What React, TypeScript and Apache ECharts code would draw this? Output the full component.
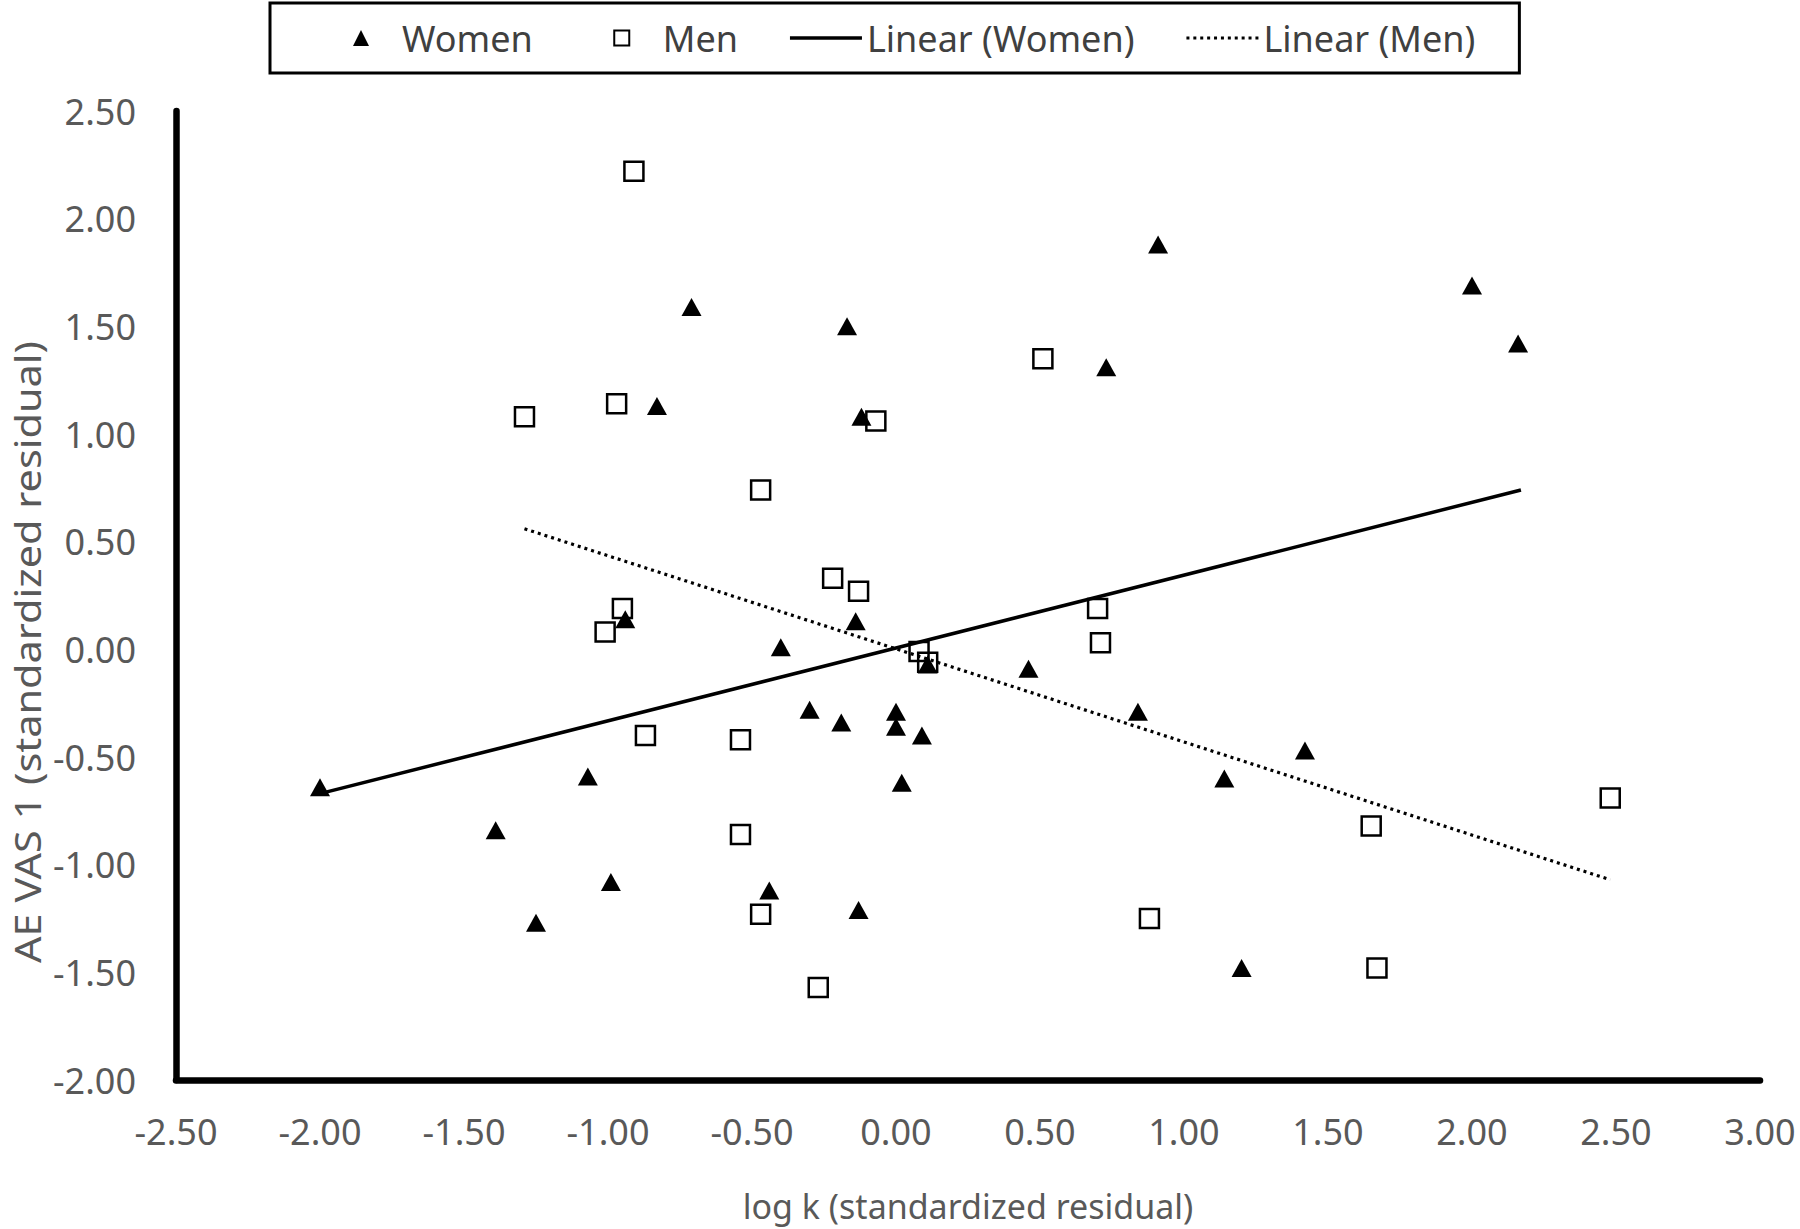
import React, { useEffect, useRef } from "react";
import * as echarts from "echarts";

// Women (triangles): [log k residual, AE VAS 1 residual]
const womenPoints: [number, number][] = [
  [-2.0, -0.64], [-1.39, -0.84], [-1.25, -1.27], [-1.07, -0.59], [-0.99, -1.08],
  [-0.94, 0.14], [-0.83, 1.13], [-0.71, 1.59], [-0.44, -1.12], [-0.4, 0.01],
  [-0.3, -0.28], [-0.19, -0.34], [-0.17, 1.5], [-0.14, 0.13], [-0.13, -1.21],
  [-0.12, 1.08], [0.0, -0.29], [0.0, -0.36], [0.02, -0.62], [0.09, -0.4],
  [0.11, -0.07], [0.46, -0.09], [0.73, 1.31], [0.84, -0.29], [0.91, 1.88],
  [1.14, -0.6], [1.2, -1.48], [1.42, -0.47], [2.0, 1.69], [2.16, 1.42],
];

// Men (squares)
const menPoints: [number, number][] = [
  [-0.91, 2.22], [-1.29, 1.08], [-0.97, 1.14], [-0.95, 0.19], [-1.01, 0.08],
  [-0.87, -0.4], [-0.47, 0.74], [-0.54, -0.42], [-0.54, -0.86], [-0.47, -1.23],
  [-0.27, -1.57], [-0.22, 0.33], [-0.13, 0.27], [-0.07, 1.06], [0.08, -0.01],
  [0.11, -0.06], [0.51, 1.35], [0.7, 0.19], [0.71, 0.03], [0.88, -1.25],
  [1.65, -0.82], [1.67, -1.48], [2.48, -0.69],
];

// Linear trend lines (endpoints)
const womenTrend: [number, number][] = [[-2.0, -0.67], [2.17, 0.74]];
const menTrend: [number, number][] = [[-1.29, 0.56], [2.48, -1.07]];

const legendNames = ["Women", "Men", "Linear (Women)", "Linear (Men)"];
const xTitle = "log k (standardized residual)";
const yTitle = "AE VAS 1 (standardized residual)";

const FONT = "'Noto Sans', 'Open Sans', sans-serif";

// legend icon shapes: each spans the full 72x16 icon box (move-to corners),
// with the visible mark centred in it
const ICON_TRIANGLE = "path://M0,0M72,16M36,0L44,16L28,16Z";
const ICON_SQUARE = "path://M0,0M72,16M28.5,0.5L43.5,0.5L43.5,15.5L28.5,15.5Z";
const ICON_SOLID = "path://M0,0M72,16M0,6.25L72,6.25L72,9.75L0,9.75Z";
const ICON_DOTTED = (() => {
  let d = "path://M0,0M72,16";
  for (let i = 0; i < 11; i++) {
    const x = i * 6.9;
    d += `M${x},6.5L${x + 3},6.5L${x + 3},9.5L${x},9.5Z`;
  }
  return d;
})();

export default function App() {
  const ref = useRef<HTMLDivElement>(null);
  useEffect(() => {
    if (!ref.current) return;
    const chart = echarts.init(ref.current, null, { renderer: "svg" });
    chart.setOption({
      animation: false,
      backgroundColor: "#ffffff",
      grid: { left: 176, right: 40, top: 111, bottom: 149, containLabel: false },
      legend: {
        data: [
          { name: legendNames[0], icon: ICON_TRIANGLE },
          { name: legendNames[1], icon: ICON_SQUARE },
          { name: legendNames[2], icon: ICON_SOLID },
          { name: legendNames[3], icon: ICON_DOTTED },
        ],
        left: 270,
        top: 3,
        orient: "horizontal",
        itemWidth: 72,
        itemHeight: 16,
        itemGap: 52,
        symbolKeepAspect: true,
        padding: [13, 44, 13, 55],
        borderColor: "#000",
        borderWidth: 3,
        textStyle: { fontSize: 36, fontFamily: FONT, color: "#404040", lineHeight: 44 },
      },
      xAxis: {
        type: "value",
        min: -2.5,
        max: 3,
        interval: 0.5,
        axisLine: { show: true, onZero: false, lineStyle: { color: "#000", width: 6.5 } },
        axisTick: { show: false },
        splitLine: { show: false },
        axisLabel: {
          formatter: (v: number) => v.toFixed(2),
          fontSize: 36,
          fontFamily: FONT,
          color: "#595959",
          margin: 33,
          showMinLabel: true,
          showMaxLabel: true,
        },
        name: xTitle,
        nameLocation: "middle",
        nameGap: 109,
        nameTextStyle: { fontSize: 34, fontFamily: FONT, color: "#595959" },
      },
      yAxis: {
        type: "value",
        min: -2,
        max: 2.5,
        interval: 0.5,
        axisLine: { show: true, onZero: false, lineStyle: { color: "#000", width: 6.5 } },
        axisTick: { show: false },
        splitLine: { show: false },
        axisLabel: {
          formatter: (v: number) => v.toFixed(2),
          fontSize: 36,
          fontFamily: FONT,
          color: "#595959",
          margin: 40,
          showMinLabel: true,
          showMaxLabel: true,
        },
      },
      graphic: [
        {
          type: "text",
          x: 27,
          y: 652,
          rotation: Math.PI / 2,
          scaleX: 1.12,
          style: {
            text: yTitle,
            fontSize: 37,
            fontFamily: FONT,
            fill: "#595959",
            align: "center",
            verticalAlign: "middle",
          },
        },
      ],
      series: [
        {
          name: "Women",
          type: "scatter",
          data: womenPoints,
          symbol: "triangle",
          symbolSize: [20, 18],
          itemStyle: { color: "#000", opacity: 1 },
          z: 3,
        },
        {
          name: "Men",
          type: "scatter",
          data: menPoints,
          symbol: "rect",
          symbolSize: 19,
          itemStyle: {
            color: "rgba(255,255,255,0)",
            borderColor: "#000",
            borderWidth: 2.5,
            opacity: 1,
          },
          z: 4,
        },
        {
          name: "Linear (Women)",
          type: "line",
          data: womenTrend,
          symbol: "none",
          showSymbol: false,
          lineStyle: { color: "#000", width: 3.5, type: "solid" },
          itemStyle: { color: "#000" },
          z: 2,
        },
        {
          name: "Linear (Men)",
          type: "line",
          data: menTrend,
          symbol: "none",
          showSymbol: false,
          lineStyle: { color: "#000", width: 3.2, type: [3, 4] },
          itemStyle: { color: "#000" },
          z: 2,
        },
      ],
    });
    return () => chart.dispose();
  }, []);
  return (
    <div
      ref={ref}
      style={{ position: "absolute", left: 0, top: 0, width: 1800, height: 1229, background: "#fff" }}
    />
  );
}
